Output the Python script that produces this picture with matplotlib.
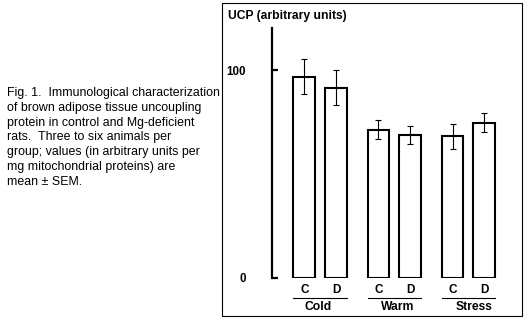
import matplotlib
matplotlib.use("Agg")
import matplotlib.pyplot as plt
import matplotlib.transforms as mtransforms
from matplotlib.patches import Rectangle
import numpy as np

groups = ["Cold", "Warm", "Stress"]
conditions = ["C", "D"]
values_C = [96.8, 71.3, 68.1]
values_D = [91.5, 68.9, 74.7]
sem_C = [8.4, 4.6, 5.9]
sem_D = [8.3, 4.3, 4.5]
yticks = [0, 100]
ytick_labels = ["0", "100"]
caption = ("Fig. 1.  Immunological characterization\n"
           "of brown adipose tissue uncoupling\n"
           "protein in control and Mg-deficient\n"
           "rats.  Three to six animals per\n"
           "group; values (in arbitrary units per\n"
           "mg mitochondrial proteins) are\n"
           "mean \u00b1 SEM.")
ylabel = "UCP (arbitrary units)"

plt.rcParams['font.family'] = ['Liberation Sans', 'DejaVu Sans']

W, H = 528, 325
fig = plt.figure(figsize=(W / 100, H / 100), dpi=100)

def fx(px):
    return px / W

def fy(py):
    return 1 - py / H

# frame around chart
fig.patches.append(Rectangle((fx(222), fy(316)), fx(522) - fx(222), fy(3) - fy(316),
                             transform=fig.transFigure, fill=False, edgecolor='black',
                             linewidth=0.8))

ax = fig.add_axes([fx(272), fy(278), fx(522) - fx(272), fy(28) - fy(278)])
ax.set_ylim(0, 120.2)
ax.set_xlim(-0.655, 2.723)
for s in ["top", "right", "bottom"]:
    ax.spines[s].set_visible(False)
ax.spines["left"].set_linewidth(1.6)
ax.patch.set_visible(False)

x = np.arange(len(groups))
off = 0.216
bw = 0.297
ax.bar(x - off, values_C, width=bw, facecolor='white', edgecolor='black', linewidth=1.5, zorder=2)
ax.bar(x + off, values_D, width=bw, facecolor='white', edgecolor='black', linewidth=1.5, zorder=2)
ax.errorbar(x - off, values_C, yerr=sem_C, fmt='none', ecolor='black', elinewidth=0.8,
            capsize=2.2, capthick=0.8, zorder=3)
ax.errorbar(x + off, values_D, yerr=sem_D, fmt='none', ecolor='black', elinewidth=0.8,
            capsize=2.2, capthick=0.8, zorder=3)

ax.set_yticks(yticks)
ax.set_yticklabels(ytick_labels, fontsize=8.3, fontweight='bold')
ax.tick_params(axis='y', direction='in', length=4, width=1.6, pad=19)

xt = np.concatenate([x - off, x + off])
xl = [conditions[0]] * len(groups) + [conditions[1]] * len(groups)
ax.set_xticks(xt)
ax.set_xticklabels(xl, fontsize=8.5, fontweight='bold')
ax.tick_params(axis='x', length=0, pad=4)

trans = mtransforms.blended_transform_factory(ax.transData, ax.transAxes)
label_shift = [-0.03, 0.04, 0.07]
for i, g in enumerate(groups):
    x0 = x[i] - off - bw / 2
    x1 = x[i] + off + bw / 2
    ax.plot([x0, x1], [-0.08, -0.08], transform=trans, color='black', linewidth=0.8,
            clip_on=False)
    ax.text(x[i] + label_shift[i], -0.118, g, transform=trans, ha='center', va='center',
            fontsize=8.7, fontweight='bold')

fig.text(fx(228), fy(16), ylabel, ha='left', va='center', fontsize=8.7, fontweight='bold')
fig.text(fx(7), fy(87), caption, ha='left', va='top', fontsize=8.9, linespacing=1.31)

fig.savefig("out.png", dpi=100)
